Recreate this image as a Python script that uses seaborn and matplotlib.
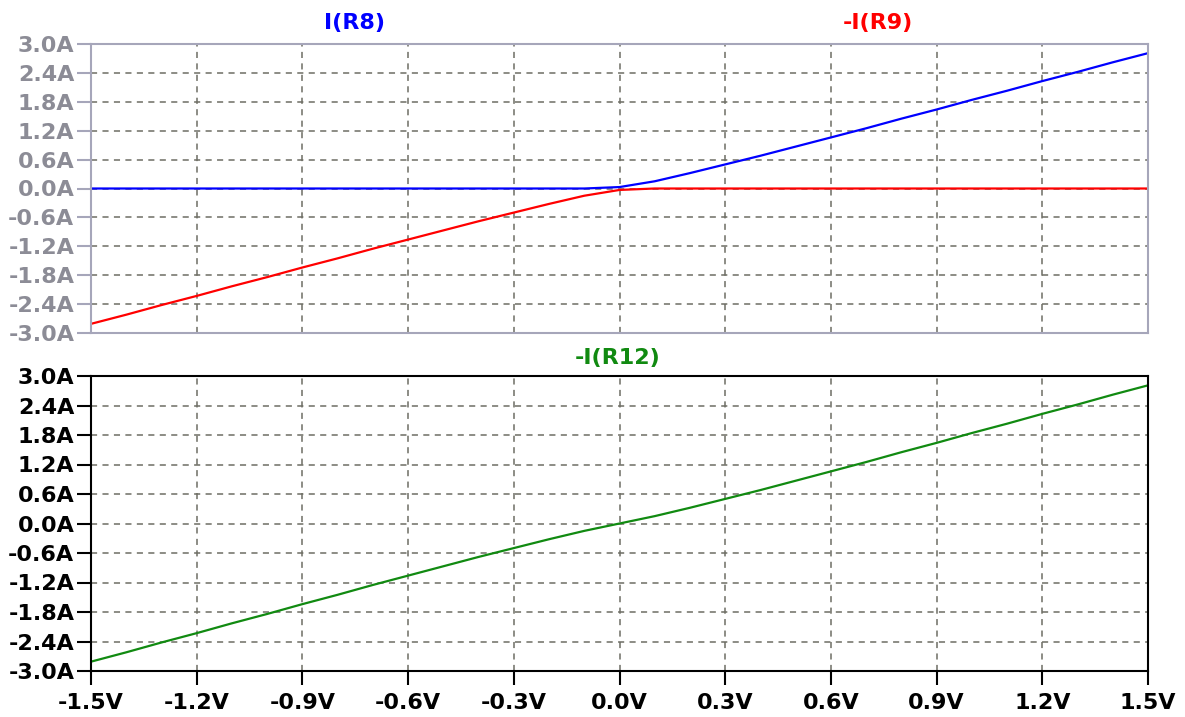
import numpy as np
import pandas as pd
import matplotlib
matplotlib.use("Agg")
import matplotlib.pyplot as plt
import seaborn as sns

# 스윕 전압 (V)
volts = [-1.5, -1.4, -1.3, -1.2, -1.1, -1.0, -0.9, -0.8, -0.7, -0.6, -0.5,
         -0.4, -0.3, -0.2, -0.1, 0.0, 0.1, 0.2, 0.3, 0.4, 0.5, 0.6, 0.7,
         0.8, 0.9, 1.0, 1.1, 1.2, 1.3, 1.4, 1.5]

# 그림에서 읽은 전류값 (A)
i_r8 = [0.0, 0.0, 0.0, 0.0, 0.0, 0.0, 0.0, 0.0, 0.0, 0.0, 0.0,
        0.0, 0.0, 0.0, 0.0, 0.03, 0.15, 0.32, 0.50, 0.68, 0.87, 1.06, 1.25,
        1.45, 1.64, 1.84, 2.03, 2.23, 2.42, 2.62, 2.81]
neg_i_r9 = [-2.81, -2.62, -2.42, -2.23, -2.03, -1.84, -1.64, -1.45, -1.25,
            -1.06, -0.87, -0.68, -0.50, -0.32, -0.15, -0.03, 0.0, 0.0, 0.0,
            0.0, 0.0, 0.0, 0.0, 0.0, 0.0, 0.0, 0.0, 0.0, 0.0, 0.0, 0.0]
neg_i_r12 = [-2.81, -2.62, -2.42, -2.23, -2.03, -1.84, -1.64, -1.45, -1.25,
             -1.06, -0.87, -0.68, -0.50, -0.32, -0.15, 0.0, 0.15, 0.32, 0.50,
             0.68, 0.87, 1.06, 1.25, 1.45, 1.64, 1.84, 2.03, 2.23, 2.42, 2.62,
             2.81]

x_ticks = [-1.5, -1.2, -0.9, -0.6, -0.3, 0.0, 0.3, 0.6, 0.9, 1.2, 1.5]
x_labels = ["-1.5V", "-1.2V", "-0.9V", "-0.6V", "-0.3V", "0.0V",
            "0.3V", "0.6V", "0.9V", "1.2V", "1.5V"]
y_ticks = [3.0, 2.4, 1.8, 1.2, 0.6, 0.0, -0.6, -1.2, -1.8, -2.4, -3.0]
y_labels = ["3.0A", "2.4A", "1.8A", "1.2A", "0.6A", "0.0A",
            "-0.6A", "-1.2A", "-1.8A", "-2.4A", "-3.0A"]

df = pd.DataFrame({"V": volts, "I(R8)": i_r8, "-I(R9)": neg_i_r9,
                   "-I(R12)": neg_i_r12})

sns.set_style("white")
plt.rcParams["font.family"] = ["DejaVu Sans"]

fig = plt.figure(figsize=(11.85, 7.17), dpi=100)
ax_top = fig.add_axes([91 / 1185, 1 - 333 / 717, (1148 - 91) / 1185, (333 - 44) / 717])
ax_bot = fig.add_axes([91 / 1185, 1 - 671 / 717, (1148 - 91) / 1185, (671 - 376) / 717])

sns.lineplot(data=df, x="V", y="I(R8)", ax=ax_top, color="#0000ff", lw=1.6)
sns.lineplot(data=df, x="V", y="-I(R9)", ax=ax_top, color="#ff0000", lw=1.6)
sns.lineplot(data=df, x="V", y="-I(R12)", ax=ax_bot, color="#118a11", lw=1.6)

grid_kw = dict(color="#6e6e64", lw=1.1, linestyle=(0, (4, 3.5)))

for ax, fg, spine in [(ax_top, "#8c8c96", "#a6a6ba"), (ax_bot, "black", "black")]:
    ax.set_xlim(-1.5, 1.5)
    ax.set_ylim(-3.0, 3.0)
    ax.set_xlabel("")
    ax.set_ylabel("")
    ax.set_yticks(y_ticks)
    ax.set_yticklabels(y_labels)
    ax.set_xticks(x_ticks)
    for xv in x_ticks[1:-1]:
        ax.axvline(xv, **grid_kw, zorder=0)
    for yv in y_ticks[1:-1]:
        ax.axhline(yv, **grid_kw, zorder=0)
    for s in ax.spines.values():
        s.set_color(spine)
        s.set_linewidth(1.5)
    ax.tick_params(axis="y", left=True, length=10, width=1.5, color=spine,
                   labelcolor=fg, labelsize=16, pad=2)
    for t in ax.get_yticklabels():
        t.set_fontweight("bold")

ax_top.tick_params(axis="x", bottom=False, labelbottom=False)
ax_bot.set_xticklabels(x_labels)
ax_bot.tick_params(axis="x", bottom=True, length=10, width=1.5, color="black",
                   labelcolor="black", labelsize=16, pad=6)
for t in ax_bot.get_xticklabels():
    t.set_fontweight("bold")

# 트레이스 이름
fig.text(354 / 1185, 1 - 23 / 717, "I(R8)", color="#0000ff", fontsize=16,
         fontweight="bold", ha="center", va="center")
fig.text(878 / 1185, 1 - 23 / 717, "-I(R9)", color="#ff0000", fontsize=16,
         fontweight="bold", ha="center", va="center")
fig.text(618 / 1185, 1 - 358 / 717, "-I(R12)", color="#118a11", fontsize=16,
         fontweight="bold", ha="center", va="center")

plt.savefig("out.png", dpi=100)
